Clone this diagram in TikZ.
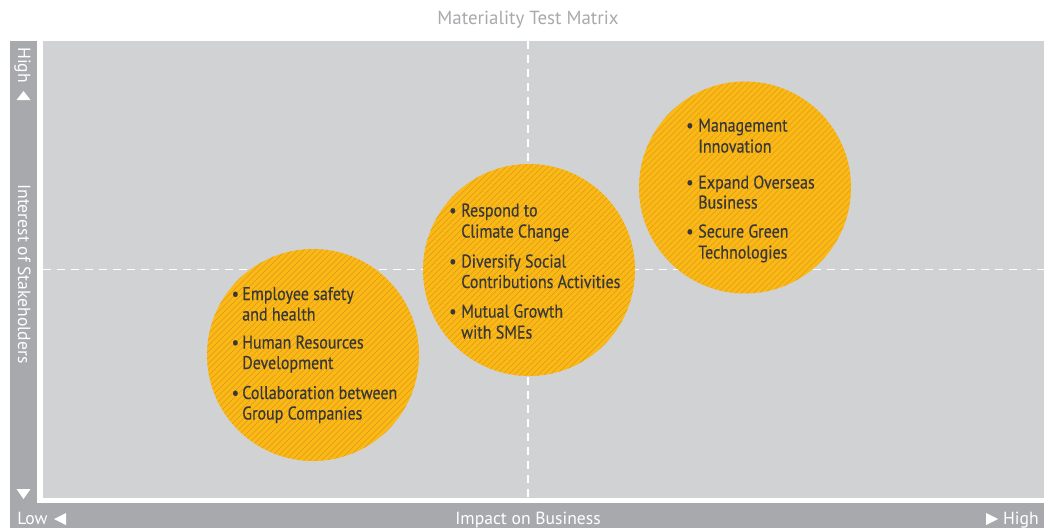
\documentclass[tikz,border=0pt]{standalone}
\usepackage{fontspec}
\setmainfont{PT Sans}
\newfontfamily\discfont{PT Sans}[FakeStretch=0.87,FakeBold=0.45]
\definecolor{plotgrey}{HTML}{D1D2D4}
\definecolor{bargrey}{HTML}{A7A9AC}
\definecolor{discfill}{HTML}{FCB815}
\definecolor{discline}{HTML}{D69C1E}
\definecolor{inktext}{HTML}{383838}
\begin{document}
\begin{tikzpicture}[x=0.75pt,y=-0.75pt,
  txt/.style={anchor=base west,inner sep=0pt,text=inktext,font=\discfont\fontsize{13.8}{16}\selectfont},
  bul/.style={anchor=base west,inner sep=0pt,text=inktext,font=\discfont\fontsize{13.8}{16}\selectfont},
  barlabel/.style={inner sep=0pt,text=white,font=\fontsize{13.2}{15}\selectfont},
  guide/.style={white,line width=1.2pt,dash pattern=on 6pt off 4.5pt},
  disc/.style={circle,inner sep=0pt,minimum size=159pt,fill=discfill,
    path picture={
      \foreach \k in {-27,...,27}
        \draw[discline,line width=0.5pt]
          ([shift={(\k*4.5pt-120pt,-120pt)}]path picture bounding box.center) -- ++(240pt,240pt);
    }},
  arrowtip/.style={fill=white}]
\useasboundingbox (0,0) rectangle (1044,528);

% title
\node[inner sep=0pt,text=bargrey,font=\fontsize{14.2}{16}\selectfont,anchor=base] (title) at (528,25) {Materiality Test Matrix};

% plotting area and axis bars
\fill[plotgrey] (43,41) rectangle (1044,498);
\fill[bargrey] (10,41) rectangle (37,528);
\fill[bargrey] (10,503) rectangle (1044,528);

% quadrant guides
\coordinate (vtop) at (528,41);
\coordinate (vbot) at (528,498);
\coordinate (hleft) at (43,269.5);
\coordinate (hright) at (1044,269.5);
\draw[guide] (vtop) -- (vbot);
\draw[guide] (hleft) -- (hright);

% axis labels
\node[barlabel,rotate=-90,anchor=base west] (yhigh) at (18,47) {High};
\fill[arrowtip] (16.5,100) -- (30.5,100) -- (23.5,91) -- cycle;
\node[barlabel,rotate=-90,anchor=base] (ylabel) at (18,274) {Interest of Stakeholders};
\fill[arrowtip] (16.5,489) -- (30.5,489) -- (23.5,499) -- cycle;

\node[barlabel,anchor=base west] (xlow) at (17,524) {Low};
\fill[arrowtip] (66,513) -- (66,525) -- (54,519) -- cycle;
\node[barlabel,anchor=base] (xlabel) at (528,524) {Impact on Business};
\fill[arrowtip] (986,513) -- (986,525) -- (998,519) -- cycle;
\node[barlabel,anchor=base east] (xhigh) at (1039,524) {High};

% issue groups
\node[disc] (low) at (313,355) {};
\node[disc] (mid) at (529,270) {};
\node[disc] (top) at (745,187.5) {};

% low group
\node[bul] (b11) at (231.5,300) {•};
\node[txt] (t11) at (242,300) {Employee safety};
\node[txt] (t12) at (242,320.5) {and health};
\node[bul] (b12) at (231.5,348.5) {•};
\node[txt] (t13) at (242,348.5) {Human Resources};
\node[txt] (t14) at (242,369) {Development};
\node[bul] (b13) at (231.5,399) {•};
\node[txt] (t15) at (242,399) {Collaboration between};
\node[txt] (t16) at (242,419.5) {Group Companies};

% middle group
\node[bul] (b21) at (449,216.5) {•};
\node[txt] (t21) at (461,216.5) {Respond to};
\node[txt] (t22) at (461,237.5) {Climate Change};
\node[bul] (b22) at (449,267.5) {•};
\node[txt] (t23) at (461,267.5) {Diversify Social};
\node[txt] (t24) at (461,288) {Contributions Activities};
\node[bul] (b23) at (449,317.5) {•};
\node[txt] (t25) at (461,317.5) {Mutual Growth};
\node[txt] (t26) at (461,338.5) {with SMEs};

% upper group
\node[bul] (b31) at (686,131.5) {•};
\node[txt] (t31) at (698,131.5) {Management};
\node[txt] (t32) at (698,152.5) {Innovation};
\node[bul] (b32) at (686,188.5) {•};
\node[txt] (t33) at (698,188.5) {Expand Overseas};
\node[txt] (t34) at (698,208.5) {Business};
\node[bul] (b33) at (686,237.5) {•};
\node[txt] (t35) at (698,237.5) {Secure Green};
\node[txt] (t36) at (698,258.5) {Technologies};
\end{tikzpicture}
\end{document}
